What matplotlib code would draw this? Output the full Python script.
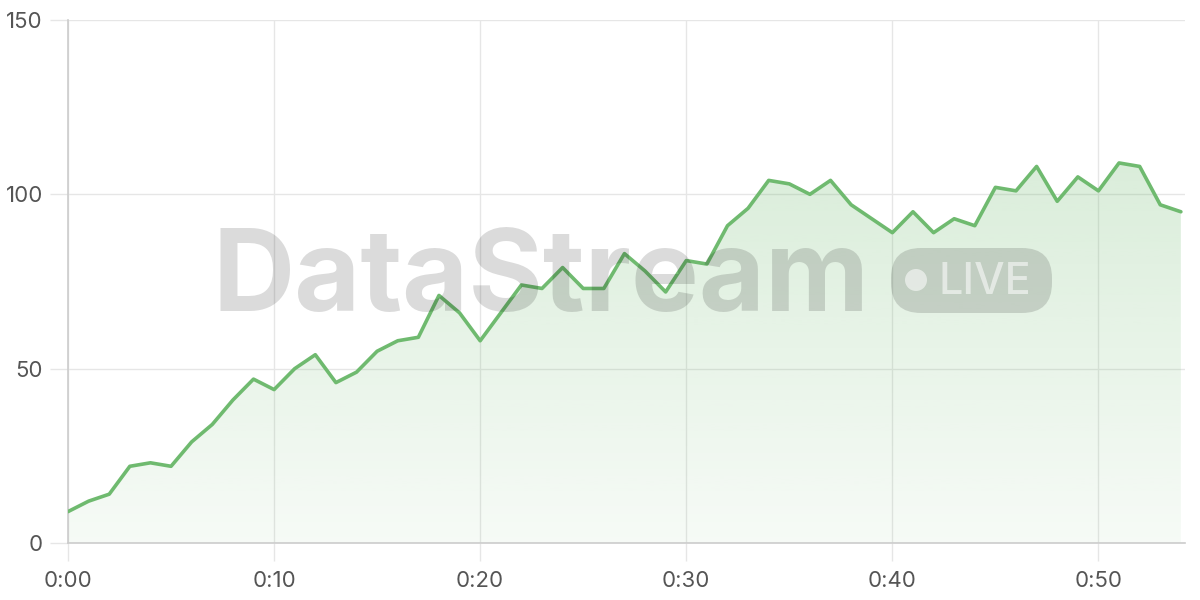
import numpy as np
import matplotlib
matplotlib.use("Agg")
import matplotlib.pyplot as plt
from matplotlib.patches import FancyBboxPatch, Circle, Polygon
from matplotlib.transforms import IdentityTransform

# minutes since start and the streamed value
minutes = list(range(55))
values = [9, 12, 14, 22, 23, 22, 29, 34, 41, 47,
          44, 50, 54, 46, 49, 55, 58, 59, 71, 66,
          58, 66, 74, 73, 79, 73, 73, 83, 78, 72,
          81, 80, 91, 96, 104, 103, 100, 104, 97, 93,
          89, 95, 89, 93, 91, 102, 101, 108, 98, 105,
          101, 109, 108, 97, 95]
x_ticks = [0, 10, 20, 30, 40, 50]
x_labels = ["0:00", "0:10", "0:20", "0:30", "0:40", "0:50"]
y_ticks = [0, 50, 100, 150]

line_color = "#6fba6f"
grid_color = "#e6e6e6"
text_color = "#555555"

plt.rcParams["font.family"] = ["Inter", "DejaVu Sans"]

fig = plt.figure(figsize=(12, 6), dpi=100)
ax = fig.add_axes([68 / 1200, 1 - 543 / 600, (1185 - 68) / 1200, (543 - 20) / 600])

ax.set_xlim(0, 54.2)
ax.set_ylim(0, 150)

# gradient fill under the line
ymax = 150
grad = np.linspace(0.06, 0.33, 256)
rgba = np.zeros((256, 1, 4))
rgba[..., :3] = matplotlib.colors.to_rgb(line_color)
rgba[:, 0, 3] = grad
img = ax.imshow(rgba, extent=[0, max(minutes), 0, ymax], origin="lower",
                aspect="auto", zorder=1, interpolation="bilinear")
poly_pts = [(minutes[0], 0)] + list(zip(minutes, values)) + [(minutes[-1], 0)]
clip = Polygon(poly_pts, closed=True, facecolor="none", edgecolor="none",
               transform=ax.transData)
ax.add_patch(clip)
img.set_clip_path(clip)

ax.plot(minutes, values, color=line_color, linewidth=2.6, zorder=4,
        solid_joinstyle="round", solid_capstyle="round")

ax.set_xticks(x_ticks)
ax.set_xticklabels(x_labels)
ax.set_yticks(y_ticks)
ax.grid(True, color=grid_color, linewidth=1, zorder=0)
ax.set_axisbelow(True)
for s in ["top", "right"]:
    ax.spines[s].set_visible(False)
for s in ["left", "bottom"]:
    ax.spines[s].set_color("#cccccc")
    ax.spines[s].set_linewidth(1.2)
ax.tick_params(axis="both", colors=grid_color, length=13, width=1,
               labelcolor=text_color, labelsize=16)
ax.tick_params(axis="x", pad=7)
ax.tick_params(axis="y", pad=5)

# watermark
wm_alpha = 0.14
fig.text(541 / 1200, 1 - 281 / 600, "DataStream", fontsize=82, fontweight="bold",
         color="black", alpha=wm_alpha, ha="center", va="center", zorder=3)
pill = FancyBboxPatch((891, 600 - 313), 161, 65,
                      boxstyle="round,pad=0,rounding_size=30",
                      transform=IdentityTransform(), facecolor="black",
                      edgecolor="none", alpha=wm_alpha, zorder=3)
fig.patches.append(pill)
dot = Circle((916, 600 - 280), 11, transform=IdentityTransform(),
             facecolor="white", edgecolor="none", alpha=0.55, zorder=3)
fig.patches.append(dot)
fig.text(985 / 1200, 1 - 283 / 600, "LIVE", fontsize=31, fontweight="medium",
         color="white", alpha=0.55, ha="center", va="center", zorder=3)

fig.savefig("out.png", dpi=100)
